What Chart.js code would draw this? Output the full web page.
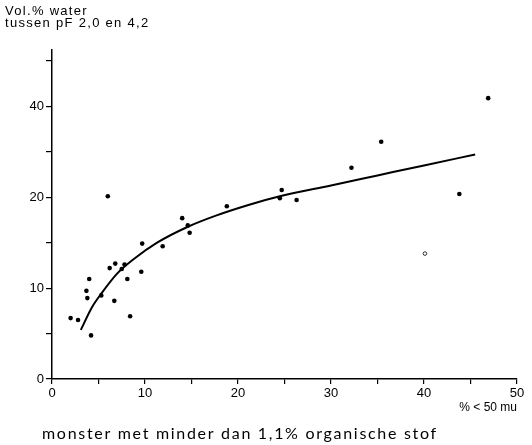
<!DOCTYPE html>
<html>
<head>
<meta charset="utf-8">
<script src="https://cdn.jsdelivr.net/npm/chart.js@4"></script>
<style>
  html, body { margin: 0; padding: 0; background: #fff; }
  #wrap { width: 532px; height: 445px; }
</style>
</head>
<body>
<div id="wrap"><canvas id="chart"></canvas></div>
<script>
// samples (% < 50 mu, vol.% water)
const sampleX = [2.0, 2.8, 3.7, 4.0, 3.8, 4.2, 5.3, 6.0, 6.2, 6.8, 6.7, 7.5, 7.8, 8.1, 8.4,
                 9.7, 9.6, 11.9, 14.0, 14.6, 14.8, 18.8, 24.7, 24.5, 26.3, 32.2, 35.4, 43.8, 46.9];
const sampleY = [6.7, 6.5, 9.7, 11.0, 8.9, 4.8, 9.2, 20.2, 12.2, 12.7, 8.6, 12.1, 12.6, 11.0, 6.9,
                 14.9, 11.8, 14.6, 17.7, 16.9, 16.1, 19.0, 21.6, 19.9, 19.7, 26.5, 32.2, 20.7, 41.8];
// the one open circle
const openX = [40.1];
const openY = [13.8];
// fitted curve
const curveX = [3.1, 4.3, 5.3, 7.0, 8.8, 11.3, 14.5, 17.7, 21.3, 24.5, 30.0, 35.0, 40.0, 45.5];
const curveY = [5.4, 7.9, 9.4, 11.6, 13.2, 15.0, 16.7, 18.0, 19.2, 20.2, 22.6, 24.8, 27.0, 29.4];

const xTicks = [0, 5, 10, 15, 20, 25, 30, 35, 40, 45, 50];
const xLabels = ['0', '', '10', '', '20', '', '30', '', '40', '', '50'];
const yTicks = [0, 5, 10, 15, 20, 30, 40, 50];
const yLabels = ['0', '', '10', '', '20', '', '40', ''];

// y axis of the original is squeezed above 20 (20..40 takes the room of 10..20)
const BREAK = 20;
const fold = v => v <= BREAK ? v : BREAK + (v - BREAK) / 2;
const unfold = u => u <= BREAK ? u : BREAK + (u - BREAK) * 2;

class FoldScale extends Chart.LinearScale {
    getPixelForValue(v) {
        return this.getPixelForDecimal(fold(v) / fold(this.max));
    }
    getValueForPixel(p) {
        return unfold(this.getDecimalForPixel(p) * fold(this.max));
    }
}
FoldScale.id = 'fold';
FoldScale.defaults = Chart.LinearScale.defaults;
Chart.register(FoldScale);

const toPoints = (xs, ys) => xs.map((x, i) => ({ x: x, y: ys[i] }));

// header and caption text
const textPlugin = {
    id: 'texts',
    afterDraw(chart) {
        const ctx = chart.ctx;
        ctx.save();
        ctx.fillStyle = '#000';
        ctx.textAlign = 'left';
        ctx.textBaseline = 'alphabetic';
        ctx.font = '13px "Liberation Sans", Arial, sans-serif';
        ctx.letterSpacing = '1.3px';
        ctx.fillText('Vol.% water', 5, 15);
        ctx.fillText('tussen pF 2,0 en 4,2', 5, 27);
        ctx.font = '16px Lato, sans-serif';
        ctx.letterSpacing = '1.7px';
        ctx.fillText('monster met minder dan 1,1% organische stof', 42, 439);
        ctx.restore();
    }
};

const tickFont = { family: '"Liberation Sans", Arial, sans-serif', size: 13 };

new Chart(document.getElementById('chart'), {
    type: 'scatter',
    data: {
        datasets: [
            {
                type: 'line',
                data: toPoints(curveX, curveY),
                borderColor: '#000',
                borderWidth: 2,
                pointRadius: 0,
                fill: false,
                cubicInterpolationMode: 'monotone'
            },
            {
                data: toPoints(sampleX, sampleY),
                backgroundColor: '#000',
                borderColor: '#000',
                pointRadius: 2.3,
                borderWidth: 0
            },
            {
                data: toPoints(openX, openY),
                backgroundColor: '#fff',
                borderColor: '#000',
                pointRadius: 1.8,
                borderWidth: 0.8
            }
        ]
    },
    options: {
        responsive: true,
        maintainAspectRatio: false,
        animation: false,
        layout: { padding: { top: 50, right: 15, bottom: 0, left: 0 } },
        plugins: {
            legend: { display: false },
            tooltip: { enabled: false }
        },
        scales: {
            x: {
                type: 'linear',
                min: 0,
                max: 50,
                afterBuildTicks: s => { s.ticks = xTicks.map(v => ({ value: v })); },
                afterFit: s => { s.height = 66; },
                ticks: {
                    color: '#000',
                    font: tickFont,
                    padding: 2,
                    maxRotation: 0,
                    autoSkip: false,
                    callback: (v, i) => xLabels[i]
                },
                grid: { drawOnChartArea: false, color: '#000', tickLength: 5, lineWidth: 1.2 },
                border: { color: '#000', width: 1.5 },
                title: {
                    display: true,
                    text: '% < 50 mu',
                    align: 'end',
                    color: '#000',
                    font: { family: '"Liberation Sans", Arial, sans-serif', size: 12 },
                    padding: { top: 0, bottom: 30 }
                }
            },
            y: {
                type: 'fold',
                min: 0,
                max: 52.4,
                afterBuildTicks: s => { s.ticks = yTicks.map(v => ({ value: v })); },
                afterFit: s => { s.width = 52; },
                ticks: {
                    color: '#000',
                    font: tickFont,
                    padding: 2,
                    autoSkip: false,
                    callback: (v, i) => yLabels[i]
                },
                grid: { drawOnChartArea: false, color: '#000', tickLength: 6, lineWidth: 1.2 },
                border: { color: '#000', width: 1.5 }
            }
        }
    },
    plugins: [textPlugin]
});
</script>
</body>
</html>
